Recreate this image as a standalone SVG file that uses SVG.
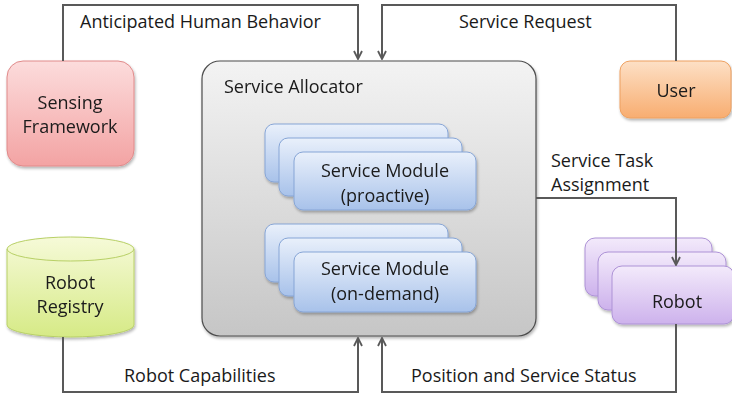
<svg xmlns="http://www.w3.org/2000/svg" width="732" height="397" viewBox="0 0 732 397">
  <defs>
    <linearGradient id="gPink" x1="0" y1="0" x2="0" y2="1">
      <stop offset="0" stop-color="#fcdcdc"/>
      <stop offset="1" stop-color="#f3a3a3"/>
    </linearGradient>
    <linearGradient id="gOrange" x1="0" y1="0" x2="0" y2="1">
      <stop offset="0" stop-color="#fde0c6"/>
      <stop offset="1" stop-color="#f8ad70"/>
    </linearGradient>
    <linearGradient id="gGray" x1="0" y1="0" x2="0" y2="1">
      <stop offset="0" stop-color="#f3f3f3"/>
      <stop offset="1" stop-color="#c6c6c6"/>
    </linearGradient>
    <linearGradient id="gBlue" x1="0" y1="0" x2="0" y2="1">
      <stop offset="0" stop-color="#e9f0fb"/>
      <stop offset="1" stop-color="#a8c2ea"/>
    </linearGradient>
    <linearGradient id="gPurple" x1="0" y1="0" x2="0" y2="1">
      <stop offset="0" stop-color="#f3eafb"/>
      <stop offset="1" stop-color="#cdb2ec"/>
    </linearGradient>
    <linearGradient id="gGreen" x1="0" y1="0" x2="0" y2="1">
      <stop offset="0" stop-color="#f6fad8"/>
      <stop offset="1" stop-color="#d6ea86"/>
    </linearGradient>
    <filter id="shadow" x="-10%" y="-10%" width="125%" height="130%">
      <feGaussianBlur in="SourceAlpha" stdDeviation="1.5"/>
      <feOffset dx="1" dy="2" result="b"/>
      <feComponentTransfer><feFuncA type="linear" slope="0.3"/></feComponentTransfer>
      <feMerge><feMergeNode/><feMergeNode in="SourceGraphic"/></feMerge>
    </filter>
    <marker id="arrow" viewBox="0 0 10 10" refX="9" refY="5" markerWidth="10" markerHeight="10" markerUnits="userSpaceOnUse" orient="auto">
      <path d="M1,1 L9,5 L1,9" fill="none" stroke="#595959" stroke-width="1.8"/>
    </marker>
  </defs>
  <style>
    text { font-family: "Open Sans", "Liberation Sans", sans-serif; font-size: 18px; fill: #1a1a1a; }
    .mid { text-anchor: middle; }
    .conn { fill: none; stroke: #595959; stroke-width: 2; }
    .pink { fill: url(#gPink); stroke: #e08a8a; stroke-width: 1; }
    .orange { fill: url(#gOrange); stroke: #eea060; stroke-width: 1; }
    .gray { fill: url(#gGray); stroke: #4d4d4d; stroke-width: 1.2; }
    .blue { fill: url(#gBlue); stroke: #86a5d6; stroke-width: 1; }
    .purple { fill: url(#gPurple); stroke: #ad92d6; stroke-width: 1; }
    .green { fill: url(#gGreen); stroke: #b8d066; stroke-width: 1; }
  </style>

  <!-- sensing framework -->
  <g id="sensing" filter="url(#shadow)">
    <rect class="pink" x="7" y="61" width="127" height="105" rx="16"/>
    <text class="mid" x="70" y="109">Sensing</text>
    <text class="mid" x="70" y="133">Framework</text>
  </g>

  <!-- user -->
  <g id="user" filter="url(#shadow)">
    <rect class="orange" x="620" y="61" width="111" height="57" rx="10"/>
    <text class="mid" x="676" y="97">User</text>
  </g>

  <!-- robot registry -->
  <g id="registry" filter="url(#shadow)">
    <path class="green" d="M7,249 A63.5,12 0 0 1 134,249 L134,325 A63.5,12 0 0 1 7,325 Z"/>
    <path d="M7,249 A63.5,12 0 0 0 134,249" fill="none" stroke="#b8d066" stroke-width="1"/>
    <text class="mid" x="70" y="289">Robot</text>
    <text class="mid" x="70" y="313">Registry</text>
  </g>

  <!-- service allocator -->
  <g id="allocator" filter="url(#shadow)">
    <rect class="gray" x="202" y="61" width="334" height="275" rx="18"/>
    <text x="224" y="93">Service Allocator</text>
  </g>

  <!-- proactive modules -->
  <g id="module-proactive" filter="url(#shadow)">
    <rect class="blue" x="265" y="124" width="183" height="58" rx="9"/>
    <rect class="blue" x="279" y="138" width="183" height="58" rx="9"/>
    <rect class="blue" x="294" y="152" width="182" height="58" rx="9"/>
    <text class="mid" x="385" y="177">Service Module</text>
    <text class="mid" x="385" y="202">(proactive)</text>
  </g>

  <!-- on-demand modules -->
  <g id="module-ondemand" filter="url(#shadow)">
    <rect class="blue" x="265" y="224" width="183" height="58" rx="9"/>
    <rect class="blue" x="279" y="238" width="183" height="58" rx="9"/>
    <rect class="blue" x="294" y="252" width="182" height="60" rx="9"/>
    <text class="mid" x="385" y="275">Service Module</text>
    <text class="mid" x="385" y="300">(on-demand)</text>
  </g>

  <!-- robots -->
  <g id="robots" filter="url(#shadow)">
    <rect class="purple" x="585" y="238" width="127" height="58" rx="10"/>
    <rect class="purple" x="598" y="252" width="128" height="58" rx="10"/>
    <rect class="purple" x="612" y="266" width="122" height="58" rx="10"/>
    <text class="mid" x="677" y="308">Robot</text>
  </g>

  <!-- connectors, drawn above the nodes -->
  <g id="connectors">
    <polyline class="conn" points="63,61 63,5 358,5 358,59" marker-end="url(#arrow)"/>
    <polyline class="conn" points="676,61 676,5 382,5 382,59" marker-end="url(#arrow)"/>
    <polyline class="conn" points="536,198 676,198 676,265" marker-end="url(#arrow)"/>
    <polyline class="conn" points="63,337 63,392 358,392 358,338" marker-end="url(#arrow)"/>
    <polyline class="conn" points="676,324 676,392 382,392 382,338" marker-end="url(#arrow)"/>
    <text x="80" y="28">Anticipated Human Behavior</text>
    <text x="459" y="28">Service Request</text>
    <text x="551" y="167">Service Task</text>
    <text x="551" y="191">Assignment</text>
    <text x="124" y="382">Robot Capabilities</text>
    <text x="411" y="382">Position and Service Status</text>
  </g>
</svg>
